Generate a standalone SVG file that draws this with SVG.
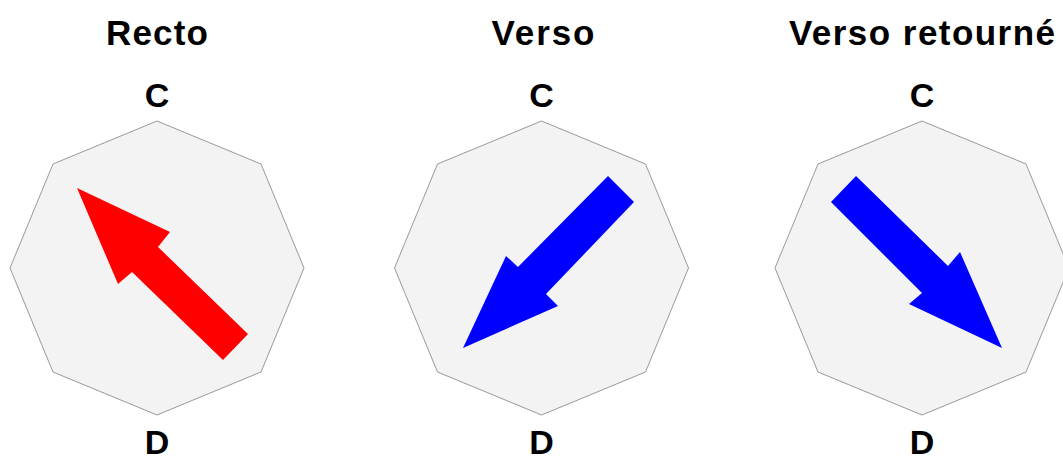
<svg xmlns="http://www.w3.org/2000/svg" width="1063" height="457" viewBox="0 0 1063 457">
<style>
.t{font-family:"Liberation Sans",Arial,sans-serif;font-weight:bold;font-size:34px;fill:#000;text-anchor:middle}
.h{font-size:35px}
.oct{fill:#f3f3f3;stroke:#999;stroke-width:1}
</style>
<defs>
<polygon id="octShape" class="oct" points="0,-147 104,-104 147,0 104,104 0,147 -104,104 -147,0 -104,-104"/>
</defs>
<rect width="1063" height="457" fill="#fff"/>
<g id="recto">
<text class="t h" x="157" y="44.5" textLength="102" lengthAdjust="spacing">Recto</text>
<text class="t" x="157" y="107">C</text>
<use href="#octShape" x="157" y="268"/>
<polygon fill="#ff0000" points="77,188 170,232 158,247 248,334 223,360 132,272 118,284"/>
<text class="t" x="157" y="454">D</text>
</g>
<g id="verso">
<text class="t h" x="543" y="44.5" textLength="103" lengthAdjust="spacing">Verso</text>
<text class="t" x="541.5" y="107">C</text>
<use href="#octShape" x="541.5" y="268"/>
<polygon fill="#0000ff" points="463,348 506,256 518,267 608,176 634,202 546,294 558,306"/>
<text class="t" x="541.5" y="454">D</text>
</g>
<g id="verso-retourne">
<text class="t h" x="922" y="44.5" textLength="266" lengthAdjust="spacing">Verso retourné</text>
<text class="t" x="922" y="107">C</text>
<use href="#octShape" x="922" y="268"/>
<polygon fill="#0000ff" points="1002,348 960,252 948,266 856,176 831,202 922,293 909,304"/>
<text class="t" x="922" y="454">D</text>
</g>
<g id="connectors"/>
</svg>
